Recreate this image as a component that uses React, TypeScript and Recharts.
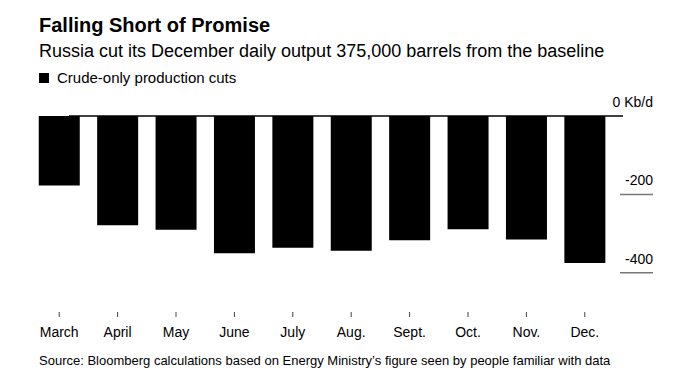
import { BarChart, Bar, XAxis, YAxis, ReferenceLine } from 'recharts'

const months = ['March', 'April', 'May', 'June', 'July', 'Aug.', 'Sept.', 'Oct.', 'Nov.', 'Dec.']
const cuts = [-177, -279, -290, -350, -336, -344, -317, -289, -315, -375]
const yTicks = [0, -200, -400]

const data = months.map((m, i) => ({ month: m, cut: cuts[i] }))

const font = '"Liberation Sans", Arial, Helvetica, sans-serif'

const YTick = ({ x, y, payload }: any) => {
  const label = payload.value === 0 ? '0 Kb/d' : String(payload.value)
  return (
    <g>
      <text x={x + 39} y={y - 9} textAnchor="end" fontSize={14} fill="#000" fontFamily={font}>
        {label}
      </text>
      {payload.value !== 0 && (
        <line x1={x + 6} x2={x + 39} y1={y} y2={y} stroke="#777" strokeWidth={1.5} />
      )}
    </g>
  )
}

const ZeroLine = (props: any) => (
  <line x1={props.x1 + 9} x2={props.x2 + 39} y1={props.y1} y2={props.y2} stroke="#000" strokeWidth={1.5} />
)

export default function App() {
  return (
    <div style={{ position: 'absolute', left: 0, top: 0, width: 687, height: 386, background: '#fff', fontFamily: font }}>
      <div style={{ position: 'absolute', left: 39, top: 14, fontSize: 20, fontWeight: 700, color: '#000', whiteSpace: 'nowrap' }}>
        Falling Short of Promise
      </div>
      <div style={{ position: 'absolute', left: 39, top: 41, fontSize: 18, color: '#000', whiteSpace: 'nowrap' }}>
        Russia cut its December daily output 375,000 barrels from the baseline
      </div>
      <div style={{ position: 'absolute', left: 39, top: 69, fontSize: 15, color: '#000', whiteSpace: 'nowrap', display: 'flex', alignItems: 'center' }}>
        <span style={{ display: 'inline-block', width: 10, height: 10, background: '#000', marginRight: 8 }} />
        Crude-only production cuts
      </div>
      <div style={{ position: 'absolute', left: 39, top: 353, fontSize: 13, color: '#000', whiteSpace: 'nowrap' }}>
        Source: Bloomberg calculations based on Energy Ministry’s figure seen by people familiar with data
      </div>
      <div style={{ position: 'absolute', left: 0, top: 0 }}>
        <BarChart width={687} height={386} data={data} margin={{ top: 116, right: 33, bottom: 44, left: 30 }} barCategoryGap="15%">
          <XAxis
            dataKey="month"
            height={30}
            axisLine={false}
            tickSize={5}
            tickMargin={10}
            tickLine={{ stroke: '#444' }}
            tick={{ fontSize: 14, fill: '#000', fontFamily: font }}
            interval={0}
          />
          <YAxis
            orientation="right"
            width={40}
            domain={[-500, 0]}
            ticks={yTicks}
            axisLine={false}
            tickLine={false}
            tickSize={0}
            tickMargin={0}
            tick={<YTick />}
          />
          <Bar dataKey="cut" fill="#000" isAnimationActive={false} />
          <ReferenceLine y={0} shape={<ZeroLine />} />
        </BarChart>
      </div>
    </div>
  )
}
